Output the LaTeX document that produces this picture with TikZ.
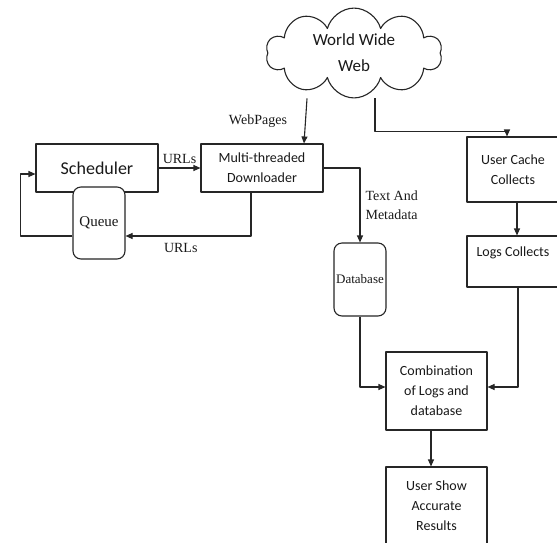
\documentclass[tikz,border=0pt]{standalone}
\usepackage{fontspec}
\setmainfont{Liberation Serif}
\newfontfamily\boxfont{Carlito}
\usetikzlibrary{shapes.symbols,arrows.meta}
\begin{document}
\begin{tikzpicture}[x=1pt,y=-1pt,>={Triangle[length=7pt,width=6pt]}, line join=round, line width=1.1pt,
  blk/.style={draw=black!85, rectangle, fill=white, inner sep=0pt, align=center, text=black!90, font=\boxfont\fontsize{14}{20}\selectfont},
  rbox/.style={draw=black!85, rounded corners=8pt, fill=white, inner sep=0pt, text=black!90, font=\fontsize{14}{17}\selectfont},
  lbl/.style={inner sep=0pt, text=black!90, font=\fontsize{14}{19}\selectfont},
  conn/.style={draw=black!85, ->}]
				\useasboundingbox (0,0) rectangle (557,542);
				\clip (0,0) rectangle (557,542);
				% cloud and boxes
				\node[cloud, draw=black!85, fill=white, cloud puffs=10, cloud ignores aspect, minimum width=176, minimum height=76, align=center, text=black!90, font=\boxfont\fontsize{17}{26}\selectfont] (www) at (354,53) {World Wide\\Web};
				\node[blk, minimum width=122, minimum height=48, font=\boxfont\fontsize{18}{22}\selectfont] (sched) at (97,168) {Scheduler};
				\node[blk, minimum width=122, minimum height=48] (dl) at (262,168) {Multi-threaded\\Downloader};
				\node[rbox, minimum width=52, minimum height=72, font=\fontsize{15}{17}\selectfont] (queue) at (99,223) {Queue};
				\node[rbox, minimum width=52, minimum height=73, font=\fontsize{13}{16}\selectfont] (db) at (360,279.5) {Database};
				\node[blk, minimum width=92, minimum height=65] (cache) at (513,169.5) {User Cache\\Collects};
				\node[blk, minimum width=92, minimum height=51] (logs) at (513,261.5) {Logs Collects\\\mbox{}};
				\node[blk, minimum width=101, minimum height=78] (comb) at (436.5,391) {Combination\\of Logs and\\database};
				\node[blk, minimum width=101, minimum height=78] (res) at (436.5,506) {User Show\\Accurate\\Results};
				% connectors
				\draw[conn] (sched) -- (dl) node[lbl, midway, above=4pt] {URLs};
				\draw[conn] ([xshift=-11pt]dl.south) |- ([yshift=-13pt]queue.east) node[lbl, pos=0.78, below=7pt] {URLs};
				\draw[conn] ([yshift=-13pt]queue.west) -- ++(-52,0) |- ([yshift=-6pt]sched.west);
				\draw[conn] ([xshift=-47pt]www.south) -- ([xshift=42pt]dl.north) node[lbl, midway, left=18pt] {WebPages};
				\draw[conn] ([xshift=21pt]www.south) -- ++(0,33) -| ([xshift=-6pt]cache.north);
				\draw[conn] ([xshift=4pt]cache.south) -- ([xshift=4pt]logs.north);
				\draw[conn] (dl.east) -| (db.north) node[lbl, pos=0.75, right=5pt, align=left] {Text And\\Metadata};
				\draw[conn] (db.south) |- ([yshift=4pt]comb.west);
				\draw[conn] ([xshift=5pt]logs.south) |- ([yshift=4pt]comb.east);
				\draw[conn] ([xshift=-5.5pt]comb.south) -- ([xshift=-5.5pt]res.north);
\end{tikzpicture}
\end{document}
